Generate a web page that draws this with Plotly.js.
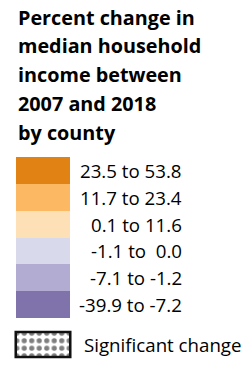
<!DOCTYPE html>
<html>
<head>
<meta charset="utf-8">
<script src="https://cdn.plot.ly/plotly-3.0.1.min.js"></script>
<style>html,body{margin:0;padding:0;background:#fff;}#chart{width:252px;height:367px;}</style>
</head>
<body>
<div id="chart"></div>
<script>
const titleLines = ["Percent change in", "median household", "income between", "2007 and 2018", "by county"];
const classLabels = ["23.5 to 53.8", "11.7 to 23.4", "0.1 to 11.6", "-1.1 to  0.0", "-7.1 to -1.2", "-39.9 to -7.2"];
const classColors = ["#e08214", "#fdb863", "#fee0b6", "#d8daeb", "#b2abd2", "#8073ac"];
const classValues = [1, 1, 1, 1, 1, 1];
const sigLabel = ["Significant change"];
const sigValue = [1];

const W = 252, H = 367;
const fx = p => p / W;
const fy = p => 1 - p / H;
const FONT = "Open Sans, Liberation Sans, sans-serif";

const traces = [
  {
    type: "bar", orientation: "h",
    y: classLabels, x: classValues,
    marker: {color: classColors, line: {width: 0}},
    xaxis: "x", yaxis: "y", hoverinfo: "skip", showlegend: false
  },
  {
    type: "bar", orientation: "h",
    y: sigLabel, x: sigValue,
    marker: {
      color: "white",
      line: {color: "#111", width: 2.5},
      pattern: {shape: ".", fgcolor: "#000", bgcolor: "#fff", size: 7.5, solidity: 0.38, fillmode: "overlay"}
    },
    xaxis: "x2", yaxis: "y2", hoverinfo: "skip", showlegend: false
  }
];

const hidden = {showticklabels: false, showgrid: false, zeroline: false, showline: false, ticks: "", fixedrange: true};

const titleBase = [25, 53.5, 82, 111, 140];
const annotations = [];
titleLines.forEach((t, i) => {
  annotations.push({
    text: "<b>" + t + "</b>", xref: "paper", yref: "paper",
    x: fx(16), y: fy(titleBase[i] - 7.7), xanchor: "left", yanchor: "middle",
    showarrow: false, font: {family: FONT, size: 19.8, color: "#000"}
  });
});
classLabels.forEach(lab => {
  annotations.push({
    text: lab.replace(/  /g, " \u00a0"), xref: "paper", yref: "y",
    x: fx(184), y: lab, xanchor: "right", yanchor: "middle",
    showarrow: false, font: {family: FONT, size: 18.7, color: "#000"}
  });
});
annotations.push({
  text: sigLabel[0], xref: "paper", yref: "y2",
  x: fx(82), y: sigLabel[0], xanchor: "left", yanchor: "middle",
  showarrow: false, font: {family: FONT, size: 18.7, color: "#000"}
});

const layout = {
  width: W, height: H,
  margin: {l: 0, r: 0, t: 0, b: 0, pad: 0},
  paper_bgcolor: "#fff", plot_bgcolor: "rgba(0,0,0,0)",
  bargap: 0, showlegend: false,
  font: {family: FONT},
  xaxis: Object.assign({domain: [fx(16), fx(70)], range: [0, 1]}, hidden),
  yaxis: Object.assign({domain: [fy(318), fy(157)], type: "category", range: [5.5, -0.5]}, hidden),
  xaxis2: Object.assign({domain: [fx(13), fx(73)], range: [-0.05, 1.05], anchor: "y2"}, hidden),
  yaxis2: Object.assign({domain: [fy(359.5), fy(329.5)], type: "category", range: [-0.6, 0.6], anchor: "x2"}, hidden),
  annotations: annotations
};

Plotly.newPlot("chart", traces, layout, {staticPlot: true, displayModeBar: false});
</script>
</body>
</html>
